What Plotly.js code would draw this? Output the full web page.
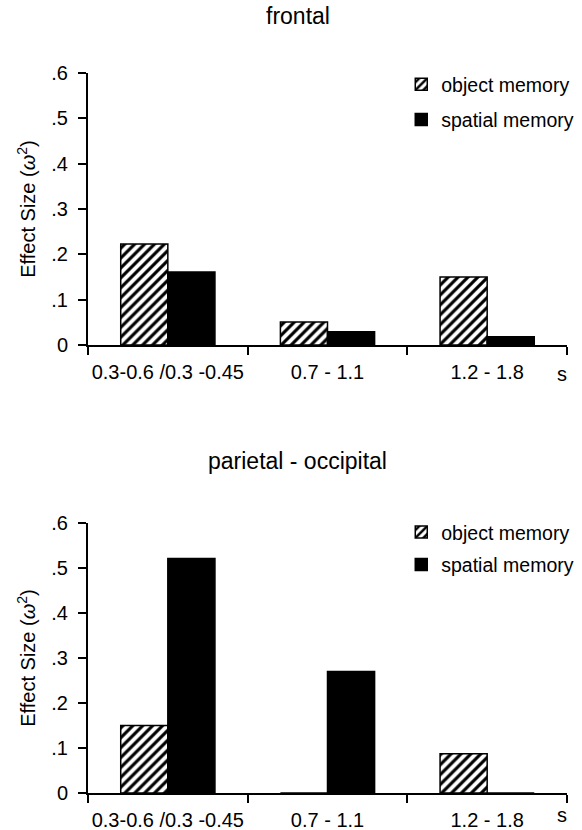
<!DOCTYPE html>
<html>
<head>
<meta charset="utf-8">
<script src="https://cdn.plot.ly/plotly-3.0.1.min.js"></script>
<style>
  html, body { margin: 0; padding: 0; background: #fff; }
  #chart { width: 582px; height: 830px; }
</style>
</head>
<body>
<div id="chart"></div>
<script>
// Time windows (s)
const categories = ['0.3-0.6 /0.3 -0.45', '0.7 - 1.1', '1.2 - 1.8'];

// Effect sizes (omega squared), frontal electrodes
const frontalObject = [0.223, 0.051, 0.150];
const frontalSpatial = [0.161, 0.029, 0.018];

// Effect sizes (omega squared), parietal-occipital electrodes
const parietalObject = [0.150, 0, 0.087];
const parietalSpatial = [0.521, 0.270, 0];

const seriesNames = ['object memory', 'spatial memory'];
const panelTitles = ['frontal', 'parietal - occipital'];
const yTickVals = [0, 0.1, 0.2, 0.3, 0.4, 0.5, 0.6];
const yTickText = ['0', '.1', '.2', '.3', '.4', '.5', '.6'];
const unitLabel = 's';

const FONT = 'Liberation Sans, Arial, sans-serif';

const hatched = {
  color: '#ffffff',
  line: { color: '#000', width: 1.5 },
  pattern: { shape: '/', fgcolor: '#000', bgcolor: '#fff', size: 7, solidity: 0.45 }
};
const solid = { color: '#000', line: { color: '#000', width: 1.5 } };

function barTrace(name, values, marker, xa, ya, legend, group) {
  return {
    type: 'bar', name: name, x: categories, y: values,
    xaxis: xa, yaxis: ya, marker: marker,
    legend: legend, legendgroup: group, hoverinfo: 'skip'
  };
}

const data = [
  barTrace(seriesNames[0], frontalObject, hatched, 'x', 'y', 'legend', 'a'),
  barTrace(seriesNames[1], frontalSpatial, solid, 'x', 'y', 'legend', 'b'),
  barTrace(seriesNames[0], parietalObject, hatched, 'x2', 'y2', 'legend2', 'a'),
  barTrace(seriesNames[1], parietalSpatial, solid, 'x2', 'y2', 'legend2', 'b')
];

function xAxis(anchor) {
  return {
    anchor: anchor, domain: [0, 1], type: 'category',
    range: [-0.5, 2.5], tickson: 'boundaries', tickangle: 0,
    ticks: 'outside', ticklen: 8, tickwidth: 2, tickcolor: '#000',
    showline: true, linecolor: '#000', linewidth: 2,
    showgrid: false, zeroline: false, fixedrange: true,
    tickfont: { family: FONT, size: 20, color: '#000' },
    ticklabelstandoff: 8
  };
}
function yAxis(anchor, domain) {
  return {
    anchor: anchor, domain: domain, range: [0, 0.6],
    tickvals: yTickVals, ticktext: yTickText,
    ticks: 'outside', ticklen: 8, tickwidth: 2, tickcolor: '#000',
    showline: true, linecolor: '#000', linewidth: 2,
    showgrid: false, zeroline: false, fixedrange: true,
    tickfont: { family: FONT, size: 20, color: '#000' },
    ticklabelstandoff: 6,
    title: { text: 'Effect Size (<i>ω</i><sup>2</sup>)', font: { family: FONT, size: 20, color: '#000' }, standoff: 10 }
  };
}
// inner half of the crossing y ticks
function yInner(overlay, anchor, domain) {
  return {
    overlaying: overlay, anchor: anchor, domain: domain, range: [0, 0.6],
    tickvals: yTickVals, ticks: 'inside', ticklen: 7, tickwidth: 2, tickcolor: '#000',
    showticklabels: false, showline: false, showgrid: false, zeroline: false, fixedrange: true
  };
}

const topDomain = [0.6222, 1];
const botDomain = [0, 0.375];

const legendStyle = (y, gap) => ({
  x: 0.654, y: y, xanchor: 'left', yanchor: 'top',
  font: { family: FONT, size: 19.5, color: '#000' },
  bgcolor: 'rgba(0,0,0,0)', traceorder: 'grouped', tracegroupgap: gap,
  itemwidth: 30
});

const layout = {
  width: 582, height: 830,
  margin: { l: 88, r: 3, t: 73, b: 37 },
  paper_bgcolor: '#fff', plot_bgcolor: '#fff',
  font: { family: FONT, color: '#000' },
  barmode: 'group', bargap: 0.41, bargroupgap: 0,
  showlegend: true,
  xaxis: xAxis('y'),
  yaxis: yAxis('x', topDomain),
  xaxis2: xAxis('y2'),
  yaxis2: yAxis('x2', botDomain),
  yaxis3: yInner('y', 'x', topDomain),
  yaxis4: yInner('y2', 'x2', botDomain),
  legend: legendStyle(1.011, 7),
  legend2: legendStyle(0.389, 4),
  annotations: [
    { text: panelTitles[0], xref: 'paper', yref: 'paper', x: 0.438, y: 1.079, xanchor: 'center', yanchor: 'middle', showarrow: false, font: { family: FONT, size: 23, color: '#000' } },
    { text: panelTitles[1], xref: 'paper', yref: 'paper', x: 0.438, y: 0.461, xanchor: 'center', yanchor: 'middle', showarrow: false, font: { family: FONT, size: 23, color: '#000' } },
    { text: unitLabel, xref: 'paper', yref: 'paper', x: 0.99, y: 0.582, xanchor: 'center', yanchor: 'middle', showarrow: false, font: { family: FONT, size: 20, color: '#000' } },
    { text: unitLabel, xref: 'paper', yref: 'paper', x: 0.99, y: -0.048, xanchor: 'center', yanchor: 'bottom', showarrow: false, font: { family: FONT, size: 20, color: '#000' } }
  ]
};

Plotly.newPlot('chart', data, layout, { staticPlot: true, displayModeBar: false });
</script>
</body>
</html>
